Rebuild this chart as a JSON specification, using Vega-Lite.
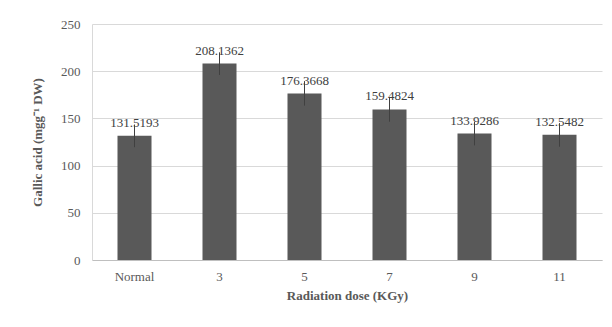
{
  "$schema": "https://vega.github.io/schema/vega-lite/v6.json",
  "width": 510,
  "height": 236,
  "autosize": {"type": "none"},
  "padding": {"left": 92, "top": 24, "right": 10, "bottom": 67},
  "background": "white",
  "config": {
    "view": {"stroke": null},
    "font": "Liberation Serif, Times New Roman, serif",
    "axis": {"labelFont": "Liberation Serif, Times New Roman, serif", "titleFont": "Liberation Serif, Times New Roman, serif"}
  },
  "data": {
    "values": [
      {"dose": "Normal", "value": 131.5193, "lo": 119.5, "hi": 143.5, "label": "131.5193"},
      {"dose": "3", "value": 208.1362, "lo": 196, "hi": 220, "label": "208.1362"},
      {"dose": "5", "value": 176.3668, "lo": 163.5, "hi": 189.5, "label": "176.3668"},
      {"dose": "7", "value": 159.4824, "lo": 146.5, "hi": 172.5, "label": "159.4824"},
      {"dose": "9", "value": 133.9286, "lo": 121.4, "hi": 146.4, "label": "133.9286"},
      {"dose": "11", "value": 132.5482, "lo": 120, "hi": 145, "label": "132.5482"}
    ]
  },
  "encoding": {
    "x": {
      "field": "dose",
      "type": "nominal",
      "sort": ["Normal", "3", "5", "7", "9", "11"],
      "scale": {"paddingInner": 0, "paddingOuter": 0},
      "axis": {
        "title": "Radiation dose (KGy)",
        "titleFontWeight": "bold",
        "titleFontSize": 13,
        "titleColor": "#595959",
        "titlePadding": 6,
        "labelAngle": 0,
        "labelFontSize": 13,
        "labelColor": "#595959",
        "labelPadding": 10,
        "ticks": false,
        "domainColor": "#bfbfbf",
        "grid": false
      }
    }
  },
  "layer": [
    {
      "mark": {"type": "bar", "width": 34, "color": "#595959"},
      "encoding": {
        "y": {
          "field": "value",
          "type": "quantitative",
          "scale": {"domain": [0, 250], "nice": false},
          "axis": {
            "title": "Gallic acid (mgg⁻¹ DW)",
            "titleFontWeight": "bold",
            "titleFontSize": 13,
            "titleColor": "#595959",
            "titlePadding": 16,
            "values": [0, 50, 100, 150, 200, 250],
            "labelFontSize": 13,
            "labelColor": "#595959",
            "labelPadding": 12,
            "ticks": false,
            "domainColor": "#d9d9d9",
            "gridColor": "#d9d9d9",
            "grid": true
          }
        }
      }
    },
    {
      "mark": {"type": "rule", "color": "#404040", "strokeWidth": 1},
      "encoding": {
        "y": {"field": "lo", "type": "quantitative"},
        "y2": {"field": "hi"}
      }
    },
    {
      "mark": {"type": "text", "dy": -9, "baseline": "alphabetic", "fontSize": 13, "color": "#404040", "font": "Liberation Serif, Times New Roman, serif"},
      "encoding": {
        "y": {"field": "value", "type": "quantitative"},
        "text": {"field": "label"}
      }
    }
  ]
}
